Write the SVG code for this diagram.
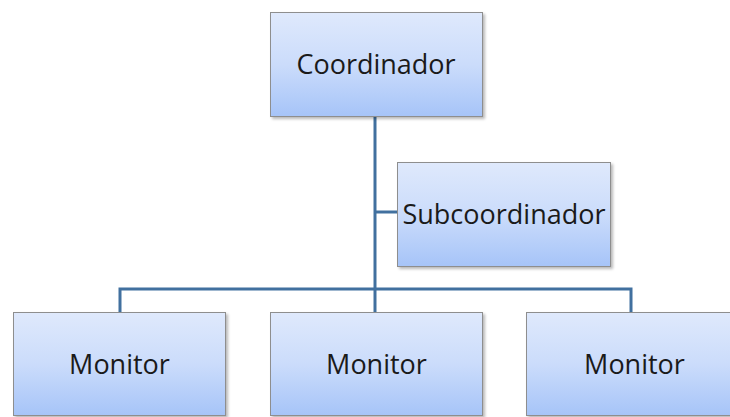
<svg xmlns="http://www.w3.org/2000/svg" width="730" height="417" viewBox="0 0 730 417">
  <style>
    .box { fill: url(#boxFill); stroke: #8e8e8e; stroke-width: 1; }
    .shadow { fill: #000; opacity: 0.28; filter: url(#soft); }
    .label { font-family: "Open Sans", "Noto Sans", "Liberation Sans", sans-serif; font-size: 27px; fill: #1a1a1a; text-anchor: middle; }
    .link { stroke: #41709f; stroke-width: 3; fill: none; stroke-linejoin: miter; }
  </style>
  <defs>
    <linearGradient id="boxFill" x1="0" y1="0" x2="0" y2="1">
      <stop offset="0" stop-color="#dfe9fc"/>
      <stop offset="0.5" stop-color="#cbdcfb"/>
      <stop offset="1" stop-color="#a6c4f8"/>
    </linearGradient>
    <filter id="soft" x="-10%" y="-10%" width="120%" height="120%">
      <feGaussianBlur stdDeviation="1.5"/>
    </filter>
  </defs>
  <rect width="730" height="417" fill="#ffffff"/>

  <g id="connectors">
    <path class="link" d="M375 117 V312"/>
    <path class="link" d="M375 212 H397"/>
    <path class="link" d="M120 312 V289 H631 V312"/>
  </g>

  <g id="coordinador">
    <rect class="shadow" x="272" y="14" width="213" height="105"/>
    <rect class="box" x="270.5" y="12.5" width="212" height="104"/>
    <text class="label" x="376" y="74">Coordinador</text>
  </g>

  <g id="subcoordinador">
    <rect class="shadow" x="399" y="164" width="214" height="105"/>
    <rect class="box" x="397.5" y="162.5" width="213" height="104"/>
    <text class="label" x="504" y="224">Subcoordinador</text>
  </g>

  <g id="monitor-1">
    <rect class="shadow" x="15" y="314" width="213" height="104"/>
    <rect class="box" x="13.5" y="312.5" width="212" height="103"/>
    <text class="label" x="119.5" y="374">Monitor</text>
  </g>

  <g id="monitor-2">
    <rect class="shadow" x="272" y="314" width="213" height="104"/>
    <rect class="box" x="270.5" y="312.5" width="212" height="103"/>
    <text class="label" x="376.5" y="374">Monitor</text>
  </g>

  <g id="monitor-3">
    <rect class="shadow" x="528" y="314" width="213" height="104"/>
    <rect class="box" x="526.5" y="312.5" width="212" height="103"/>
    <text class="label" x="634.5" y="374">Monitor</text>
  </g>
</svg>
